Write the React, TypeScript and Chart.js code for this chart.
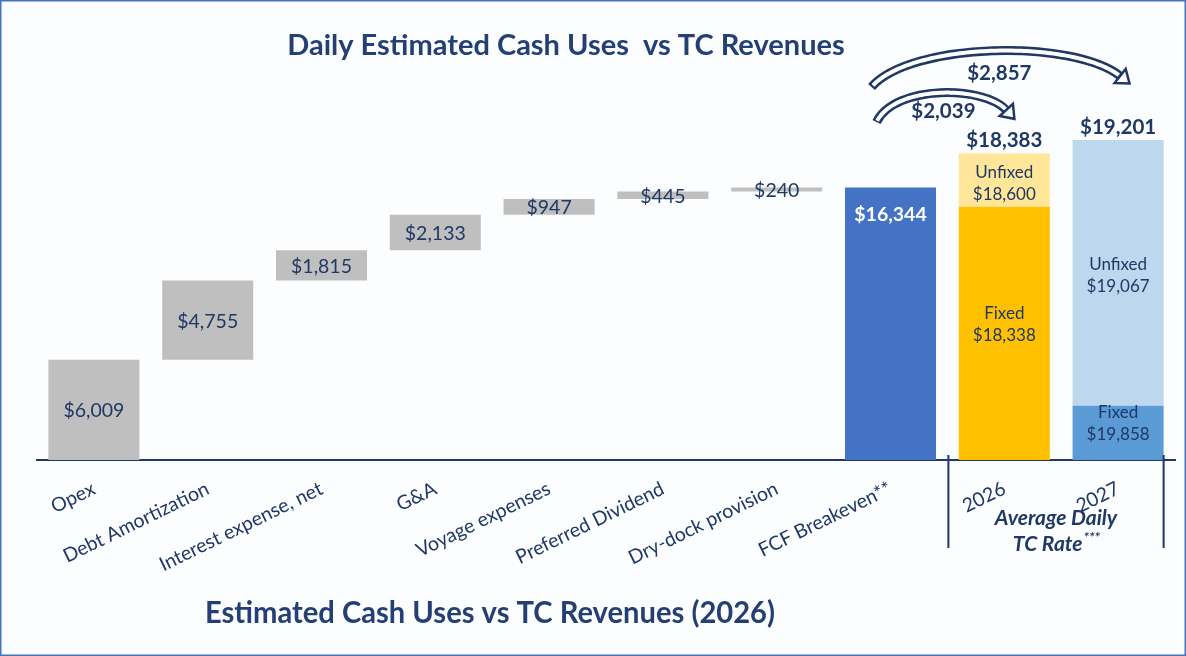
import React, { useEffect, useRef } from 'react';
import { Chart, registerables } from 'chart.js';

Chart.register(...registerables);

// ---------------- data ----------------
const categories = [
  'Opex',
  'Debt Amortization',
  'Interest expense, net',
  'G&A',
  'Voyage expenses',
  'Preferred Dividend',
  'Dry-dock provision',
  'FCF Breakeven**',
  '2026',
  '2027',
];
const costValues = [6009, 4755, 1815, 2133, 947, 445, 240];
const fcfBreakeven = 16344;
const avgTcRate = [18383, 19201];
const fixedPortion = [15200, 3250]; // height of fixed-days part of the TC bars
const fixedRate = [18338, 19858];
const unfixedRate = [18600, 19067];
const rateIncrease = [2039, 2857];

const NAVY = '#1F3864';
const FONT = 'Lato, "Open Sans", sans-serif';

const fmt = (v: number) => '$' + v.toLocaleString('en-US');

// waterfall ranges for cost bars
const costRanges: ([number, number] | null)[] = [];
{
  let acc = 0;
  for (let i = 0; i < categories.length; i++) {
    if (i < costValues.length) {
      costRanges.push([acc, acc + costValues[i]]);
      acc += costValues[i];
    } else costRanges.push(null);
  }
}
const fcfData = categories.map((_, i) => (i === 7 ? [0, fcfBreakeven] : null));
const fixedData = categories.map((_, i) => (i >= 8 ? [0, fixedPortion[i - 8]] : null));
const unfixedData = categories.map((_, i) => (i >= 8 ? [fixedPortion[i - 8], avgTcRate[i - 8]] : null));

function drawArrow(
  ctx: CanvasRenderingContext2D,
  x0: number, y0: number, c1x: number, c1y: number, c2x: number, c2y: number, x1: number, y1: number,
) {
  ctx.save();
  ctx.lineCap = 'butt';
  ctx.beginPath();
  ctx.moveTo(x0, y0);
  ctx.bezierCurveTo(c1x, c1y, c2x, c2y, x1, y1);
  ctx.strokeStyle = NAVY;
  ctx.lineWidth = 9;
  ctx.stroke();
  // interior (slightly shortened so the tail end looks closed)
  ctx.beginPath();
  const t0 = 0.012;
  const bx = (t: number, a: number, b: number, c: number, d: number) =>
    (1 - t) ** 3 * a + 3 * (1 - t) ** 2 * t * b + 3 * (1 - t) * t * t * c + t ** 3 * d;
  ctx.moveTo(bx(t0, x0, c1x, c2x, x1), bx(t0, y0, c1y, c2y, y1));
  for (let t = t0; t <= 1.0001; t += 0.01) ctx.lineTo(bx(t, x0, c1x, c2x, x1), bx(t, y0, c1y, c2y, y1));
  ctx.strokeStyle = '#ffffff';
  ctx.lineWidth = 4;
  ctx.stroke();
  // head
  let dx = x1 - c2x, dy = y1 - c2y;
  const len = Math.hypot(dx, dy);
  dx /= len; dy /= len;
  const nx = -dy, ny = dx;
  const tipX = x1 + dx * 12, tipY = y1 + dy * 12;
  ctx.beginPath();
  ctx.moveTo(x1 + nx * 9, y1 + ny * 9);
  ctx.lineTo(tipX, tipY);
  ctx.lineTo(x1 - nx * 9, y1 - ny * 9);
  ctx.closePath();
  ctx.fillStyle = '#ffffff';
  ctx.fill();
  ctx.strokeStyle = NAVY;
  ctx.lineWidth = 2.5;
  ctx.lineJoin = 'miter';
  ctx.stroke();
  ctx.restore();
}

const decorPlugin = {
  id: 'decor',
  beforeDraw(chart: any) {
    const { ctx, width, height } = chart;
    ctx.save();
    ctx.fillStyle = '#fcfdfe';
    ctx.fillRect(0, 0, width, height);
    ctx.strokeStyle = '#4472C4';
    ctx.lineWidth = 1.5;
    ctx.strokeRect(0.75, 0.75, width - 1.5, height - 1.5);
    ctx.restore();
  },
  afterDatasetsDraw(chart: any) {
    const { ctx, chartArea } = chart;
    const xs = chart.scales.x;
    ctx.save();
    ctx.textAlign = 'center';
    ctx.textBaseline = 'middle';

    // cost labels
    const m0 = chart.getDatasetMeta(0);
    m0.data.forEach((el: any, i: number) => {
      if (!costRanges[i]) return;
      const p = el.getProps(['x', 'y', 'base'], true);
      ctx.font = `19.5px ${FONT}`;
      ctx.fillStyle = NAVY;
      ctx.fillText(fmt(costValues[i]), p.x, (p.y + p.base) / 2 + 1);
    });

    // FCF label
    const m1 = chart.getDatasetMeta(1);
    const fe = m1.data[7].getProps(['x', 'y', 'base', 'width'], true);
    ctx.font = `bold 19.5px ${FONT}`;
    ctx.fillStyle = '#ffffff';
    ctx.fillText(fmt(fcfBreakeven), fe.x, fe.y + 27);

    // fixed / unfixed labels
    const m2 = chart.getDatasetMeta(2);
    const m3 = chart.getDatasetMeta(3);
    for (let k = 0; k < 2; k++) {
      const f = m2.data[8 + k].getProps(['x', 'y', 'base', 'width'], true);
      const u = m3.data[8 + k].getProps(['x', 'y', 'base', 'width'], true);
      ctx.font = `17px ${FONT}`;
      ctx.fillStyle = NAVY;
      const fc = (f.y + f.base) / 2 - 9;
      ctx.fillText('Fixed', f.x, fc - 11);
      ctx.fillText(fmt(fixedRate[k]), f.x, fc + 11);
      const uc = (u.y + u.base) / 2 + 3;
      ctx.fillText('Unfixed', u.x, uc - 11);
      ctx.fillText(fmt(unfixedRate[k]), u.x, uc + 11);
      ctx.font = `bold 20.5px ${FONT}`;
      ctx.fillText(fmt(avgTcRate[k]), u.x, u.y - 13);
    }

    // arrows
    const fx = xs.getPixelForTick(7);
    const x26 = xs.getPixelForTick(8);
    const x27 = xs.getPixelForTick(9);
    const top = chartArea.top;
    drawArrow(ctx, fx - 14, top + 22, fx + 5, top - 16, x26 - 20, top - 14, x26 + 2, top + 10);
    drawArrow(ctx, fx - 19, top - 13, fx + 20, top - 58, x27 - 45, top - 61, x27 + 2, top - 24);
    ctx.font = `bold 20.5px ${FONT}`;
    ctx.fillStyle = NAVY;
    ctx.fillText(fmt(rateIncrease[0]), (fx + x26) / 2 - 4, top + 11);
    ctx.fillText(fmt(rateIncrease[1]), (fx + x27) / 2 - 5, top - 27);

    // separators
    const sepL = (xs.getPixelForTick(7) + xs.getPixelForTick(8)) / 2 + 1;
    const e27 = m3.data[9].getProps(['x', 'width'], true);
    const sepR = e27.x + e27.width / 2;
    ctx.strokeStyle = NAVY;
    ctx.lineWidth = 2;
    ctx.beginPath();
    ctx.moveTo(sepL, chartArea.bottom - 5);
    ctx.lineTo(sepL, chartArea.bottom + 88);
    ctx.moveTo(sepR, chartArea.bottom - 5);
    ctx.lineTo(sepR, chartArea.bottom + 88);
    ctx.stroke();

    // group caption
    const gc = (sepL + sepR) / 2;
    ctx.font = `italic bold 21px ${FONT}`;
    ctx.fillStyle = NAVY;
    ctx.fillText('Average Daily', gc, chartArea.bottom + 58);
    const t2 = 'TC Rate';
    const w2 = ctx.measureText(t2).width;
    ctx.font = `italic bold 14px ${FONT}`;
    const w3 = ctx.measureText('***').width;
    const sx = gc - (w2 + w3) / 2;
    ctx.textAlign = 'left';
    ctx.fillText('***', sx + w2 + 1, chartArea.bottom + 77);
    ctx.font = `italic bold 21px ${FONT}`;
    ctx.fillText(t2, sx, chartArea.bottom + 84);

    // titles
    ctx.textAlign = 'center';
    ctx.fillStyle = '#243F73';
    ctx.font = `bold 29px ${FONT}`;
    ctx.fillText('Daily Estimated Cash Uses  vs TC Revenues', 566, 46, 562);
    ctx.font = `bold 30px ${FONT}`;
    ctx.fillText('Estimated Cash Uses vs TC Revenues (2026)', 490, 613, 570);
    ctx.restore();
  },
};

export default function App() {
  const ref = useRef<HTMLCanvasElement>(null);
  useEffect(() => {
    if (!ref.current) return;
    const chart = new Chart(ref.current, {
      type: 'bar',
      data: {
        labels: categories,
        datasets: [
          { data: costRanges as any, backgroundColor: '#BFBFBF' },
          { data: fcfData as any, backgroundColor: '#4472C4' },
          { data: fixedData as any, backgroundColor: ['', '', '', '', '', '', '', '', '#FFC000', '#5B9BD5'] },
          { data: unfixedData as any, backgroundColor: ['', '', '', '', '', '', '', '', '#FFE699', '#BDD7EE'] },
        ].map((d) => ({ ...d, grouped: false, barPercentage: 0.8, categoryPercentage: 1, borderWidth: 0 })) as any,
      },
      options: {
        responsive: false,
        animation: false,
        layout: { padding: { left: 37, right: 11, top: 100, bottom: 0 } },
        plugins: { legend: { display: false }, tooltip: { enabled: false }, title: { display: false } },
        scales: {
          y: { display: false, min: 0, max: 21600 },
          x: {
            grid: { display: false, drawTicks: false },
            border: { display: true, color: NAVY, width: 2 },
            ticks: {
              autoSkip: false,
              minRotation: 26,
              maxRotation: 26,
              padding: 17,
              color: NAVY,
              font: { family: FONT, size: 19.5 },
            },
            afterFit: (scale: any) => {
              scale.height = 196;
            },
          },
        },
      },
      plugins: [decorPlugin],
    });
    return () => chart.destroy();
  }, []);
  return (
    <div style={{ position: 'absolute', left: 0, top: 0, width: 1186, height: 656 }}>
      <canvas ref={ref} width={1186} height={656} style={{ width: 1186, height: 656, display: 'block' }} />
    </div>
  );
}
